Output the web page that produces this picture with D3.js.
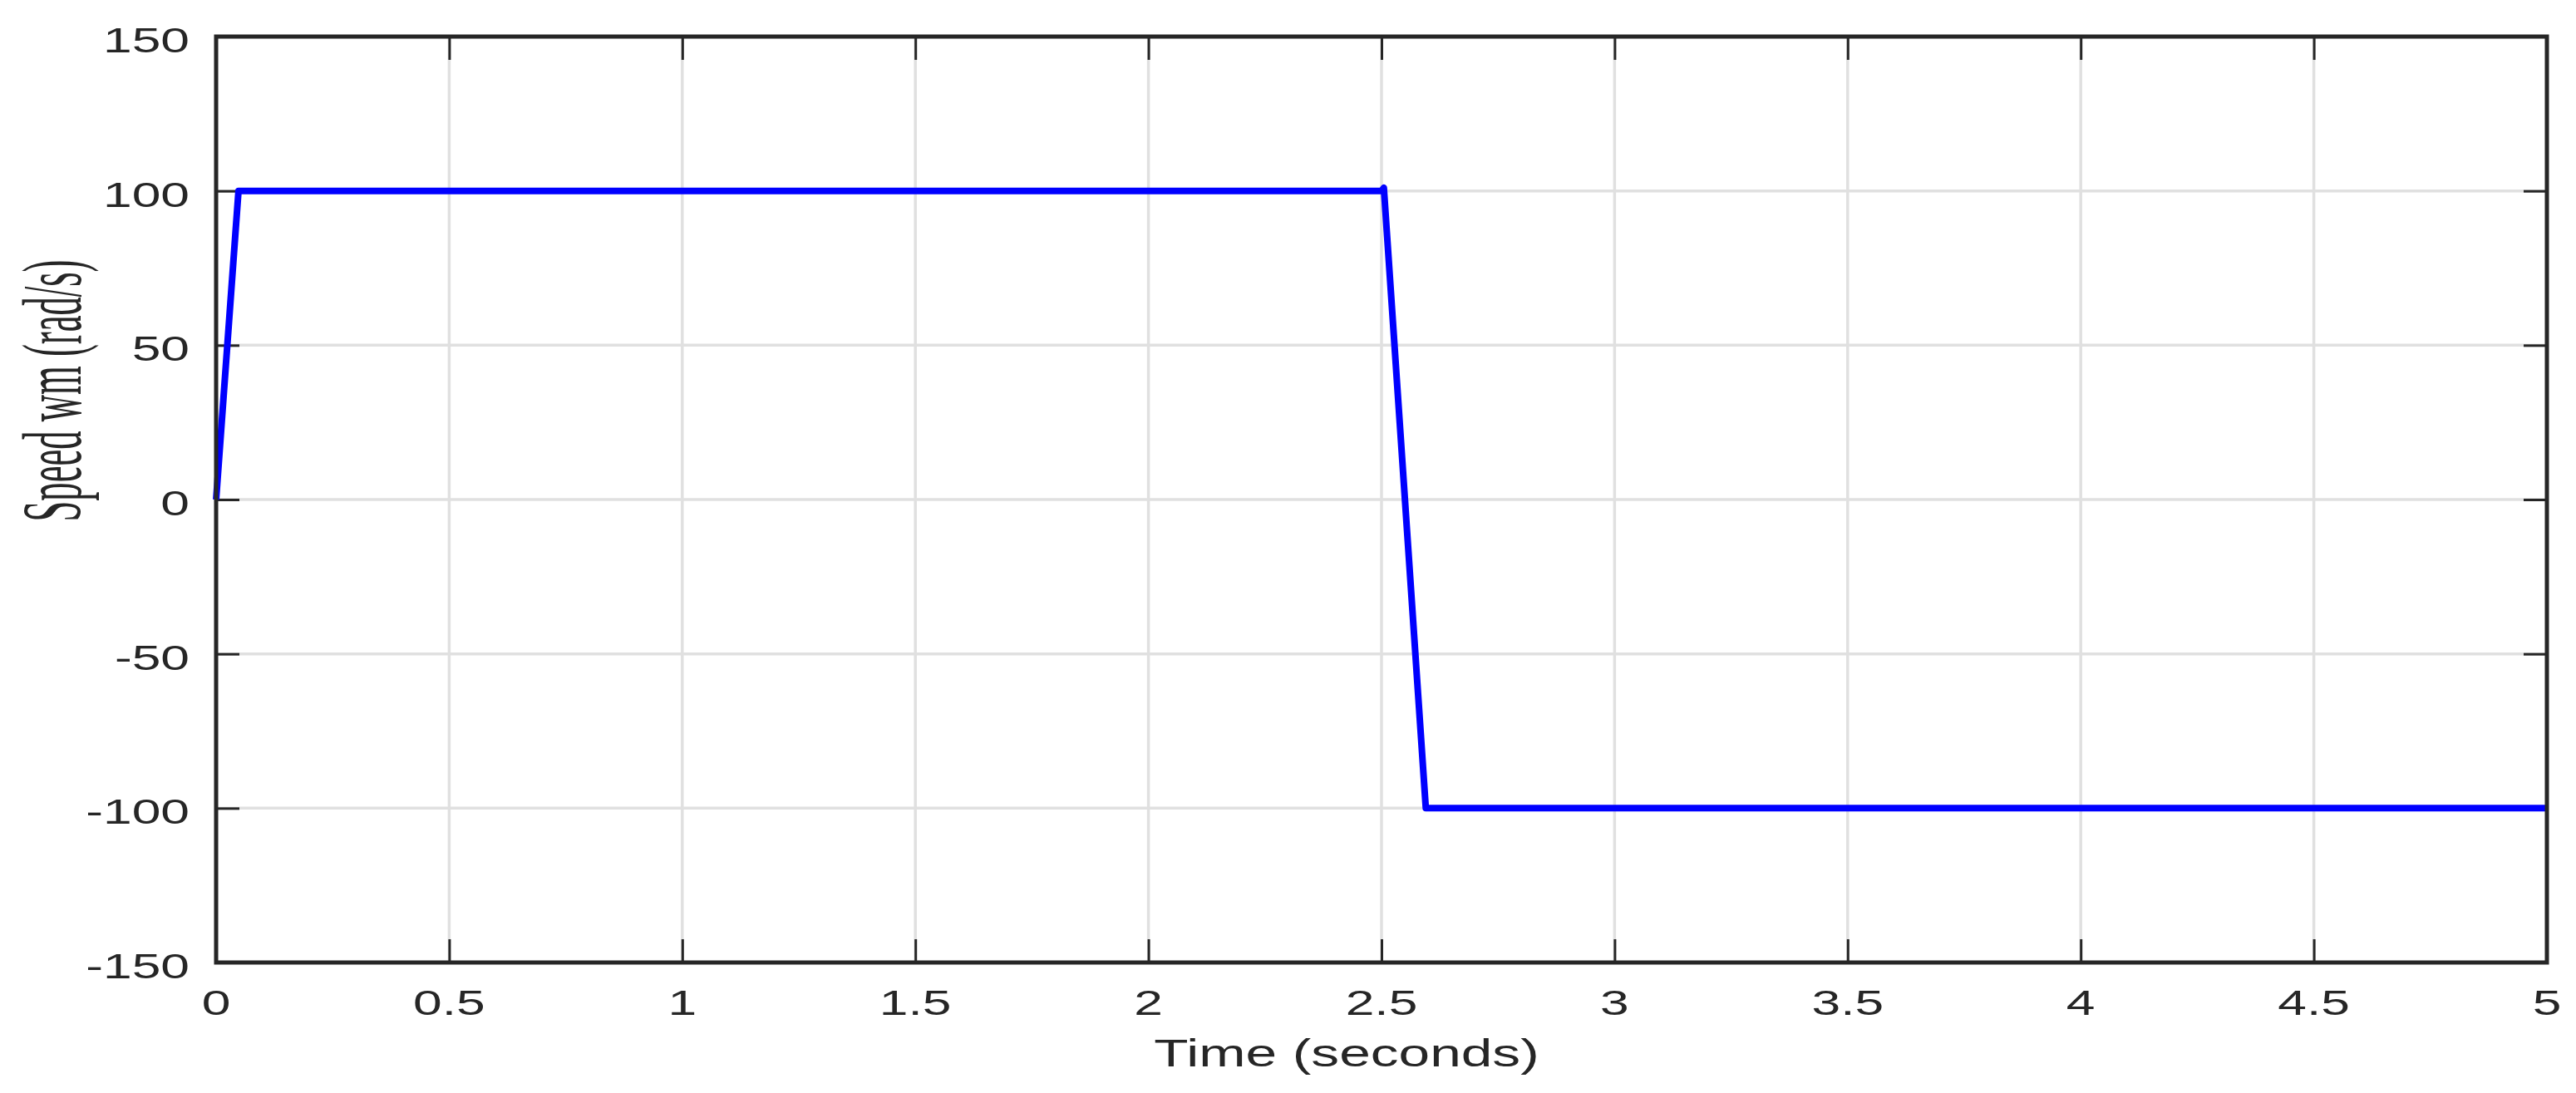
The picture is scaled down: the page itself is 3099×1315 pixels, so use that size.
<!DOCTYPE html>
<html>
<head>
<meta charset="utf-8">
<script src="https://cdn.jsdelivr.net/npm/d3@7"></script>
<style>
  html, body { margin: 0; padding: 0; background: #fff; }
  svg { display: block; }
</style>
</head>
<body>
<svg id="chart" width="3099" height="1315"></svg>
<script>
// ---- data ----
const timeValues  = [0, 0.048, 2.5, 2.505, 2.595, 5];
const speedValues = [0, 100, 100, 101, -100, -100];
const xTicks = [0, 0.5, 1, 1.5, 2, 2.5, 3, 3.5, 4, 4.5, 5];
const xTickLabels = ["0", "0.5", "1", "1.5", "2", "2.5", "3", "3.5", "4", "4.5", "5"];
const yTicks = [-150, -100, -50, 0, 50, 100, 150];
const yTickLabels = ["-150", "-100", "-50", "0", "50", "100", "150"];
const xLabel = "Time (seconds)";
const yLabel = "Speed wm (rad/s)";

// ---- layout ----
const W = 3099, H = 1315;
const pLeft = 260, pRight = 3064, pTop = 44, pBottom = 1158;
const axisColor = "#262626";
const textStretch = 1.45;

const svg = d3.select("#chart");
svg.append("rect").attr("width", W).attr("height", H).attr("fill", "#fff");

const x = d3.scaleLinear().domain([0, 5]).range([pLeft, pRight]);
const y = d3.scaleLinear().domain([-150, 150]).range([pBottom, pTop]);

// grid
const grid = svg.append("g").attr("stroke", "#e0e0e0").attr("stroke-width", 3.5);
grid.selectAll("line.gx").data(xTicks).join("line")
  .attr("x1", d => x(d)).attr("x2", d => x(d)).attr("y1", pTop).attr("y2", pBottom);
grid.selectAll("line.gy").data(yTicks).join("line")
  .attr("y1", d => y(d)).attr("y2", d => y(d)).attr("x1", pLeft).attr("x2", pRight);

// ticks (inward, all four sides) via d3 axes
const tickLen = 28;
function styleAxis(g) {
  g.select(".domain").remove();
  g.selectAll(".tick line").attr("stroke", axisColor).attr("stroke-width", 3);
  g.selectAll(".tick text").remove();
}
svg.append("g").attr("transform", `translate(0,${pBottom})`)
  .call(d3.axisTop(x).tickValues(xTicks).tickSize(tickLen)).call(styleAxis);
svg.append("g").attr("transform", `translate(0,${pTop})`)
  .call(d3.axisBottom(x).tickValues(xTicks).tickSize(tickLen)).call(styleAxis);
svg.append("g").attr("transform", `translate(${pLeft},0)`)
  .call(d3.axisRight(y).tickValues(yTicks).tickSize(tickLen)).call(styleAxis);
svg.append("g").attr("transform", `translate(${pRight},0)`)
  .call(d3.axisLeft(y).tickValues(yTicks).tickSize(tickLen)).call(styleAxis);

// data line
const line = d3.line().x((d, i) => x(timeValues[i])).y(d => y(d));
svg.append("path").datum(speedValues)
  .attr("d", line)
  .attr("fill", "none")
  .attr("stroke", "#0000ff")
  .attr("stroke-width", 8)
  .attr("stroke-linejoin", "round");

// frame
svg.append("rect")
  .attr("x", pLeft).attr("y", pTop)
  .attr("width", pRight - pLeft).attr("height", pBottom - pTop)
  .attr("fill", "none").attr("stroke", axisColor).attr("stroke-width", 5);

// tick labels
const font = "'Liberation Sans', Arial, sans-serif";
svg.append("g").selectAll("text").data(xTicks).join("text")
  .attr("transform", d => `translate(${x(d)},1221) scale(${textStretch},1)`)
  .attr("text-anchor", "middle")
  .attr("font-family", font).attr("font-size", 43).attr("fill", axisColor)
  .text((d, i) => xTickLabels[i]);

svg.append("g").selectAll("text").data(yTicks).join("text")
  .attr("transform", d => `translate(228,${y(d) + 19}) scale(${textStretch},1)`)
  .attr("text-anchor", "end")
  .attr("font-family", font).attr("font-size", 43).attr("fill", axisColor)
  .text((d, i) => yTickLabels[i]);

// x label
svg.append("text")
  .attr("transform", `translate(1620,1283) scale(1.47,1)`)
  .attr("text-anchor", "middle")
  .attr("font-family", font).attr("font-size", 46).attr("fill", axisColor)
  .text(xLabel);

// y label (serif, rotated, condensed along its length)
const yl = svg.append("text")
  .attr("text-anchor", "middle")
  .attr("font-family", "'Liberation Serif', 'Times New Roman', serif")
  .attr("font-size", 101).attr("fill", axisColor)
  .text(yLabel);
const len = yl.node().getComputedTextLength();
const targetLen = 315;
yl.attr("transform", `translate(97,470) rotate(-90) scale(${targetLen / len},1)`);
</script>
</body>
</html>
